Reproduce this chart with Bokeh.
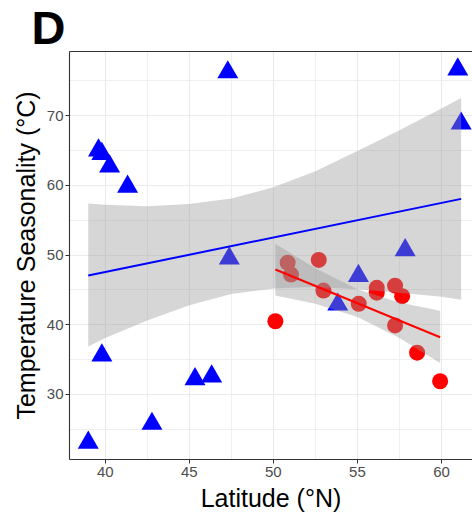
from bokeh.plotting import figure
from bokeh.models import ColumnDataSource, LinearAxis, FixedTicker, Range1d
from bokeh.embed import file_html
from bokeh.resources import INLINE

# ---- data ----
blue_lat = [47.29, 60.97, 61.17, 39.60, 39.80, 40.26, 41.33, 39.80, 38.99, 42.78, 45.34, 46.33, 47.38, 55.06, 53.83, 57.84]
blue_ts = [76.2, 76.6, 68.85, 65.0, 64.5, 62.7, 59.8, 35.6, 23.1, 25.8, 32.2, 32.6, 49.5, 47.0, 42.9, 50.7]

red_lat = [50.85, 51.05, 52.70, 52.98, 50.12, 55.08, 56.15, 56.15, 57.24, 57.66, 57.24, 58.55, 59.92]
red_ts = [48.9, 47.2, 49.3, 44.9, 40.5, 43.0, 45.3, 44.6, 45.6, 44.1, 39.9, 36.0, 31.9]

# linear fits and 95% confidence bands
blue_fit_lat = [38.99, 61.17]
blue_fit_ts = [47.06, 58.05]
blue_band_lat = [38.99, 40.0, 42.5, 45.0, 47.5, 50.0, 52.5, 55.0, 57.5, 60.0, 61.17]
blue_band_lo = [36.9, 38.1, 40.6, 42.8, 44.4, 45.2, 45.4, 45.1, 44.6, 44.0, 43.6]
blue_band_hi = [57.4, 57.2, 57.0, 57.3, 58.1, 59.7, 62.0, 64.9, 67.9, 71.0, 72.5]

red_fit_lat = [50.12, 59.92]
red_fit_ts = [47.92, 38.21]
red_band_lat = [50.12, 52.5, 55.0, 57.5, 59.92]
red_band_lo = [44.2, 43.0, 41.1, 38.1, 34.5]
red_band_hi = [51.6, 48.1, 45.1, 43.2, 42.0]

x_ticks = [40, 45, 50, 55, 60]
x_minor = [37.5, 42.5, 47.5, 52.5, 57.5, 62.5]
y_ticks = [30, 40, 50, 60, 70]
y_minor = [25, 35, 45, 55, 65, 75]

panel_label = "D"
x_title = "Latitude (°N)"
y_title = "Temperature Seasonality (°C)"

FONT = "Liberation Sans"

p = figure(width=472, height=521, output_backend="svg", toolbar_location=None,
           x_range=Range1d(37.875, 61.845), y_range=Range1d(20.68, 79.18),
           min_border_left=69, min_border_right=0, min_border_top=51, min_border_bottom=62)
p.outline_line_color = None
p.background_fill_color = "white"
p.border_fill_color = "white"

xt = FixedTicker(ticks=x_ticks, minor_ticks=x_minor)
yt = FixedTicker(ticks=y_ticks, minor_ticks=y_minor)
p.xaxis.ticker = xt
p.yaxis.ticker = yt
p.xgrid.ticker = xt
p.ygrid.ticker = yt
for g in (p.xgrid, p.ygrid):
    g.grid_line_color = "#EBEBEB"
    g.grid_line_width = 1.1
    g.minor_grid_line_color = "#EBEBEB"
    g.minor_grid_line_width = 0.8

for ax in (p.xaxis, p.yaxis):
    ax.axis_line_color = "#333333"
    ax.axis_line_width = 1.1
    ax.major_tick_line_color = "#333333"
    ax.major_tick_in = 0
    ax.major_tick_out = 4
    ax.minor_tick_line_color = None
    ax.major_label_text_color = "#4D4D4D"
    ax.major_label_text_font = FONT
    ax.major_label_text_font_size = "15px"
    ax.axis_label_text_font = FONT
    ax.axis_label_text_font_size = "25px"
    ax.axis_label_text_font_style = "normal"
    ax.axis_label_text_color = "black"

p.xaxis.axis_label = x_title
p.yaxis.axis_label = y_title
p.xaxis.major_label_standoff = 3
p.yaxis.major_label_standoff = 2
p.xaxis.axis_label_standoff = 4
p.yaxis.axis_label_standoff = 4

top = LinearAxis(ticker=FixedTicker(ticks=[]), axis_line_color="#333333", axis_line_width=1.1,
                 major_tick_line_color=None, minor_tick_line_color=None,
                 major_tick_in=0, major_tick_out=0, minor_tick_in=0, minor_tick_out=0,
                 major_label_text_font_size="0px", major_label_standoff=0,
                 axis_label_standoff=0)
p.add_layout(top, "above")

blue_src = ColumnDataSource(dict(lat=blue_lat, ts=blue_ts))
red_src = ColumnDataSource(dict(lat=red_lat, ts=red_ts))

p.scatter(x="lat", y="ts", source=blue_src, marker="triangle", size=21,
          fill_color="#0000FF", line_color=None)
p.scatter(x="lat", y="ts", source=red_src, marker="circle", size=16,
          fill_color="#FF0000", line_color=None)

p.varea(x=blue_band_lat, y1=blue_band_lo, y2=blue_band_hi, fill_color="#999999", fill_alpha=0.4)
p.line(x=blue_fit_lat, y=blue_fit_ts, line_color="#0000FF", line_width=2)
p.varea(x=red_band_lat, y1=red_band_lo, y2=red_band_hi, fill_color="#999999", fill_alpha=0.4)
p.line(x=red_fit_lat, y=red_fit_ts, line_color="#FF0000", line_width=2)

p.title.text = panel_label
p.title.text_font = FONT
p.title.text_font_size = "47px"
p.title.text_font_style = "bold"
p.title.text_color = "black"
p.title.align = "left"
p.title.offset = -38
p.title.standoff = -4

open("out.html", "w").write(file_html(p, INLINE))
